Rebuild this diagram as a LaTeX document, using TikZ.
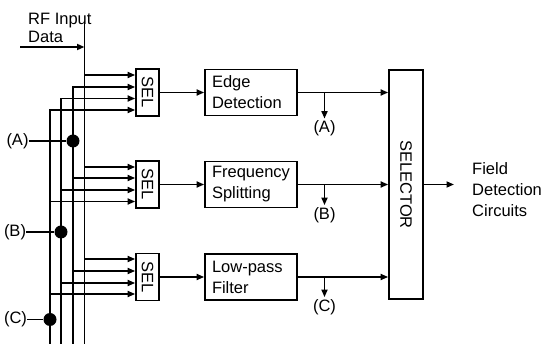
\documentclass[tikz,border=0pt]{standalone}
\usepackage{fontspec}
\setmainfont{Liberation Sans}
\usepackage{tikz}
\usetikzlibrary{arrows.meta,positioning}
\newcommand{\diagfont}{\fontsize{16.5}{21}\selectfont}
\newcommand{\rffont}{\fontsize{16.5}{18}\selectfont}
\tikzset{
  blk/.style={draw,line width=1.7pt,minimum width=92pt,minimum height=46pt,text width=78pt,inner xsep=7pt,inner ysep=0pt,align=left,font=\diagfont},
  selnode/.style={draw,line width=1.7pt,minimum width=23pt,minimum height=47pt,inner sep=0pt,font=\diagfont},
  chooser/.style={draw,line width=1.7pt,minimum width=34pt,minimum height=229pt,inner sep=0pt,font=\diagfont},
  lbl/.style={inner sep=0pt,font=\diagfont},
  wire/.style={line width=1.7pt},
  sig/.style={wire,-{Triangle[length=7.5pt,width=6pt]}},
  junc/.style={circle,fill,inner sep=0pt,minimum size=13pt},
}

\begin{document}
\begin{tikzpicture}[x=1pt,y=-1pt]
  \useasboundingbox (0,0) rectangle (544,344);
  % selection and processing blocks
  \node[selnode] (sel1) at (147.5,92.5) {\rotatebox{-90}{SEL}};
  \node[selnode] (sel2) at (147.5,184.5) {\rotatebox{-90}{SEL}};
  \node[selnode] (sel3) at (147.5,277) {\rotatebox{-90}{SEL}};
  \node[blk] (edge) at (251,92.5) {Edge\\Detection};
  \node[blk] (freq) at (251,184.5) {Frequency\\Splitting};
  \node[blk] (lowp) at (251,277) {Low-pass\\Filter};
  \node[chooser] (chsr) at (406,184.5) {\rotatebox{-90}{SELECTOR}};
  \node[lbl,align=left,anchor=west,inner xsep=18pt] (fdc) at (454,190) {Field\\Detection\\Circuits};
  \node[lbl,align=left,anchor=north west,font=\rffont] (rfin) at (28,13) {RF Input\\Data};
  % bus lines
  \coordinate (rftop) at (84.5,21);
  \coordinate (datain) at (20,47);
  \coordinate (b0) at (84.5,344);
  \coordinate (b1) at (73,344);
  \coordinate (b2) at (61,344);
  \coordinate (b3) at (50,344);
  % side labels
  \node[lbl] (la) at (17.5,141) {(A)};
  \node[lbl] (lb) at (15,232) {(B)};
  \node[lbl] (lc) at (15.5,319.5) {(C)};
  \node[lbl,inner sep=2pt] (oa) at (324.5,128.5) {(A)};
  \node[lbl,inner sep=2pt] (ob) at (324.5,215) {(B)};
  \node[lbl,inner sep=2pt] (oc) at (324.5,307) {(C)};

  \draw[wire] (rftop) -- (b0);
  \draw[sig] (datain) -- (datain -| b0);
  \draw[sig] (b1) |- (sel1.west |- 0,87);
  \draw[sig] (b2) |- (sel1.west |- 0,98.5);
  \draw[sig] (b3) |- (sel1.west |- 0,110);
  \foreach \s/\ya in {sel1/75,sel2/167,sel3/259}
    \draw[sig] (b0 |- 0,\ya) -- (\s.west |- 0,\ya);
  \foreach \s/\yb/\yc/\yd in {sel2/178/190/201.5,sel3/271/283/294} {
    \draw[sig] (b1 |- 0,\yb) -- (\s.west |- 0,\yb);
    \draw[sig] (b2 |- 0,\yc) -- (\s.west |- 0,\yc);
    \draw[sig] (b3 |- 0,\yd) -- (\s.west |- 0,\yd);
  }
  \node[junc] (ja) at (b1 |- la) {};
  \node[junc] (jb) at (b2 |- lb) {};
  \node[junc] (jc) at (b3 |- lc) {};
  \draw[wire] (la) -- (ja);
  \draw[wire] (lb) -- (jb);
  \draw[wire] (lc) -- (jc);

  \draw[sig] (sel1) -- (edge);
  \draw[sig] (sel2) -- (freq);
  \draw[sig] (sel3) -- (lowp);
  \draw[sig] (edge.east) -- (edge.east -| chsr.west);
  \draw[sig] (freq.east) -- (freq.east -| chsr.west);
  \draw[sig] (lowp.east) -- (lowp.east -| chsr.west);
  \draw[sig] (oa.north |- edge.east) -- (oa.north);
  \draw[sig] (ob.north |- freq.east) -- (ob.north);
  \draw[sig] (oc.north |- lowp.east) -- (oc.north);
  \draw[sig] (chsr.east) -- (chsr.east -| fdc.west);
\end{tikzpicture}
\end{document}
